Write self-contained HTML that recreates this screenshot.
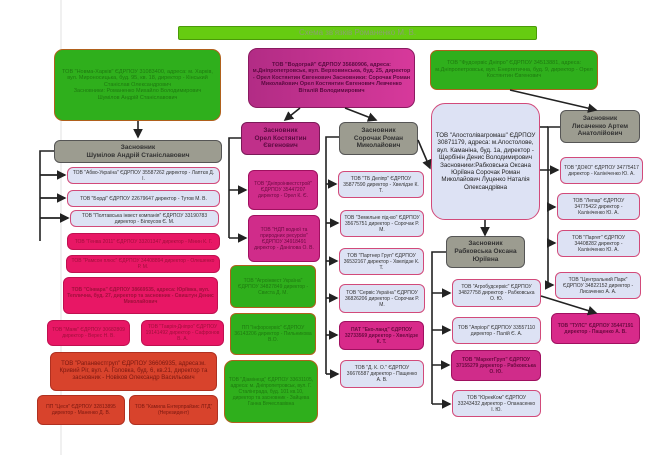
<!DOCTYPE html>
<html><head><meta charset="utf-8"><style>
body{margin:0;width:662px;height:455px;background:#fff;overflow:hidden;position:relative;font-family:"Liberation Sans",sans-serif}
.b{position:absolute;box-sizing:border-box;border-radius:6px;display:flex;align-items:center;justify-content:center;text-align:center;font-size:5px;line-height:1.2;padding:1px 3px;overflow:hidden}
.g{background:#2faf1c;border:1.5px solid #b0601c;color:#1f7a10}
.m{background:linear-gradient(90deg,#b22c85,#d7399b);border:1.5px solid #8a1a60;color:#5a0a40;font-weight:bold}
.p{background:#dde2f4;border:1.5px solid #d24a7a;color:#333}
.k{background:#e81765;border:1.5px solid #c01050;color:#a0103c}
.r{background:#d8432c;border:1.5px solid #b03020;color:#7a1810}
.s{background:#9c9c90;border:1.5px solid #555;color:#333;font-weight:bold;font-size:6.5px}
.mm{background:#c0308a;border:1.5px solid #7a1a58;color:#5a0a40;font-weight:bold;font-size:6.5px}
.pk{background:#d02c8a;border:1.5px solid #a01060;color:#6a0a40;font-weight:bold}
svg{position:absolute;left:0;top:0}
</style></head><body>
<div style="position:absolute;left:60px;top:0;width:2px;height:455px;background:#f0f0f0"></div>
<div class="b" style="left:178px;top:26px;width:359px;height:14px;background:#66cc11;border-radius:2px;color:#8aa070;font-size:8px;border:1px solid #4a9a08">Схема зв'язків Романенко М. В.</div>

<div class="b g" style="left:54px;top:49px;width:167px;height:72px;font-size:5.5px;border-radius:9px">ТОВ "Новма-Харків" ЄДРПОУ 31083400, адреса: м. Харків, вул. Мироносицька, буд. 95, кв. 18, директор - Кінський Станіслав Олександрович<br>Засновники: Романенко Михайло Володимирович<br>Шумілов Андрій Станіславович</div>
<div class="b m" style="left:248px;top:48px;width:167px;height:60px;font-size:5.5px;border-radius:9px">ТОВ "Водограй" ЄДРПОУ 35680906, адреса: м.Дніпропетровськ, вул. Верховинська, буд. 25, директор - Орел Костянтин Євгенович Засновники: Сорочак Роман Миколайович Орел Костянтин Євгенович Левченко Віталій Володимирович</div>
<div class="b g" style="left:430px;top:50px;width:168px;height:40px;font-size:5.5px;border-radius:7px">ТОВ "Фудсервіс Дніпро" ЄДРПОУ 34513881, адреса: м.Дніпропетровськ, вул. Енергетична, буд. 9, директор - Орел Костянтин Євгенович</div>

<div class="b s" style="left:54px;top:140px;width:168px;height:23px">Засновник<br>Шумілов Андрій Станіславович</div>
<div class="b p" style="left:67px;top:167px;width:153px;height:17px">ТОВ "Абво-Україна" ЄДРПОУ 35587262 директор - Лаптєв Д. І.</div>
<div class="b p" style="left:67px;top:190px;width:153px;height:17px">ТОВ "Борді" ЄДРПОУ 22679647 директор - Тутов М. В.</div>
<div class="b p" style="left:70px;top:210px;width:149px;height:17px">ТОВ "Полтавська інвест компанія" ЄДРПОУ 33190783 директор - Білоусов Є. М.</div>
<div class="b k" style="left:67px;top:233px;width:153px;height:17px">ТОВ "Генва 2011" ЄДРПОУ 33201347 директор - Мінин К. Г.</div>
<div class="b k" style="left:66px;top:255px;width:154px;height:18px">ТОВ "Рамсон плюс" ЄДРПОУ 34408894 директор - Олешенко Р. М.</div>
<div class="b k" style="left:63px;top:277px;width:155px;height:37px;font-weight:bold">ТОВ "Сінвара" ЄДРПОУ 38669535, адреса: Юріївка, вул. Теплична, буд. 27, директор та засновник - Свиштун Денис Миколайович</div>
<div class="b k" style="left:47px;top:320px;width:83px;height:26px">ТОВ "Маяк" ЄДРПОУ 30682809 директор - Верес Н. В.</div>
<div class="b k" style="left:141px;top:320px;width:83px;height:26px">ТОВ "Таврія-Дніпро" ЄДРПОУ 19141492 директор - Сафронов В. А.</div>
<div class="b r" style="left:50px;top:352px;width:167px;height:39px;font-size:6px">ТОВ "Рапанвестгруп" ЄДРПОУ 36606935, адреса:м. Кривий Ріг, вул. А. Головка, буд. 6, кв.21, директор та засновник - Новіков Олександр Васильович</div>
<div class="b r" style="left:37px;top:395px;width:88px;height:30px">ПП "Цеся" ЄДРПОУ 32813895 директор - Маненко Д. В.</div>
<div class="b r" style="left:129px;top:395px;width:89px;height:30px">ТОВ "Камила Ентерпрайзис ЛТД" (Нерезидент)</div>

<div class="b mm" style="left:241px;top:122px;width:79px;height:33px">Засновник<br>Орел Костянтин Євгенович</div>
<div class="b pk" style="left:248px;top:170px;width:70px;height:40px;font-weight:normal">ТОВ "Дніпроінвестстрой" ЄДРПОУ 35447207 директор - Орел К. Є.</div>
<div class="b pk" style="left:248px;top:215px;width:72px;height:47px;font-weight:normal">ТОВ "НДП водної та природних ресурсів" ЄДРПОУ 34918491 директор - Данілова О. В.</div>
<div class="b g" style="left:230px;top:265px;width:86px;height:43px">ТОВ "Агроінвест Україна" ЄДРПОУ 34827849 директор - Свиста Д. М.</div>
<div class="b g" style="left:230px;top:313px;width:86px;height:42px">ПП "Інфорсервіс" ЄДРПОУ 36143206 директор - Пильникова В.О.</div>
<div class="b g" style="left:224px;top:360px;width:94px;height:63px;border-radius:9px">ТОВ "Діамінезд" ЄДРПОУ 33631105, адреса: м. Дніпропетровськ, вул. Г. Сталінграда, буд. 101 кв.10, директор та засновник - Зайцева Ганна Вячеславівна</div>

<div class="b s" style="left:339px;top:122px;width:79px;height:33px">Засновник<br>Сорочак Роман Миколайович</div>
<div class="b p" style="left:338px;top:171px;width:86px;height:27px">ТОВ "ТБ Деліпр" ЄДРПОУ 35877590 директор - Хвелідзе К. Т.</div>
<div class="b p" style="left:340px;top:210px;width:84px;height:27px">ТОВ "Земельне під-во" ЄДРПОУ 35675751 директор - Сорочак Р. М.</div>
<div class="b p" style="left:339px;top:248px;width:85px;height:27px">ТОВ "Партнер Груп" ЄДРПОУ 36532167 директор - Хвелідзе К. Т.</div>
<div class="b p" style="left:339px;top:284px;width:86px;height:29px">ТОВ "Сервіс Україна" ЄДРПОУ 36826206 директор - Сорочак Р. М.</div>
<div class="b pk" style="left:339px;top:321px;width:85px;height:29px;background:#d82a8a">ПАТ "Еко-ланд" ЄДРПОУ 32733569 директор - Хвелідзе К. Т.</div>
<div class="b p" style="left:340px;top:360px;width:84px;height:28px">ТОВ "Д. К. О." ЄДРПОУ 36676587 директор - Пащенко А. В.</div>

<div class="b p" style="left:431px;top:103px;width:109px;height:117px;border-radius:14px;font-size:6.2px;color:#222">ТОВ "Апостолівагромаш" ЄДРПОУ 30871179, адреса: м.Апостолове, вул. Каманіна, буд. 1а, директор - Щербінін Денис Володимирович Засновники:Рабковська Оксана Юріївна Сорочак Роман Миколайович Луценко Наталія Олександрівна</div>
<div class="b s" style="left:446px;top:236px;width:79px;height:32px">Засновник<br>Рабковська Оксана Юріївна</div>
<div class="b p" style="left:452px;top:279px;width:89px;height:28px">ТОВ "Агробудсервіс" ЄДРПОУ 34827758 директор - Рабковська О. Ю.</div>
<div class="b p" style="left:452px;top:317px;width:89px;height:27px">ТОВ "Апріорі" ЄДРПОУ 33557110 директор - Палій Є. А.</div>
<div class="b pk" style="left:451px;top:350px;width:90px;height:31px">ТОВ "МаркетГруп" ЄДРПОУ 37155279 директор - Рабковська О. Ю.</div>
<div class="b p" style="left:452px;top:390px;width:89px;height:27px">ТОВ "ЮрекКом" ЄДРПОУ 33243432 директор - Опанасенко І. Ю.</div>

<div class="b s" style="left:560px;top:110px;width:80px;height:33px">Засновник<br>Лисаченко Артем Анатолійович</div>
<div class="b p" style="left:560px;top:157px;width:83px;height:27px">ТОВ "ДОКО" ЄДРПОУ 34775417 директор - Калініченко Ю. А.</div>
<div class="b p" style="left:557px;top:193px;width:83px;height:27px">ТОВ "Лепар" ЄДРПОУ 34775422 директор - Калініченко Ю. А.</div>
<div class="b p" style="left:557px;top:230px;width:83px;height:27px">ТОВ "Паргет" ЄДРПОУ 34408282 директор - Калініченко Ю. А.</div>
<div class="b p" style="left:555px;top:272px;width:86px;height:27px">ТОВ "Центральний Парк" ЄДРПОУ 34822152 директор - Лисаченко А. А.</div>
<div class="b pk" style="left:551px;top:313px;width:89px;height:31px;background:#d82a8a">ТОВ "ТУЛС" ЄДРПОУ 35447191 директор - Пащенко А. В.</div>

<svg width="662" height="455">
<defs><marker id="a" markerWidth="6" markerHeight="6" refX="5" refY="3" orient="auto"><path d="M0,0L6,3L0,6z" fill="#222"/></marker></defs>
<g stroke="#222" stroke-width="1.6" fill="none">
<path d="M138,121V137" marker-end="url(#a)"/>
<path d="M300,108L285,120" marker-end="url(#a)"/>
<path d="M345,108L376,120" marker-end="url(#a)"/>
<path d="M510,90L596,110" marker-end="url(#a)"/>
<path d="M418,140L430,168" marker-end="url(#a)"/>
<path d="M485,220V235" marker-end="url(#a)"/>
<path d="M541,296L596,313" marker-end="url(#a)"/>
<path d="M54,151H40V241"/>
<path d="M40,175H65M40,198H65M40,218H68" marker-end="url(#a)"/>
<path d="M40,175H65" marker-end="url(#a)"/><path d="M40,198H65" marker-end="url(#a)"/><path d="M40,218H68" marker-end="url(#a)"/>
<path d="M241,138H229V238"/>
<path d="M229,190H246" marker-end="url(#a)"/><path d="M229,238H246" marker-end="url(#a)"/>
<path d="M339,137H326V374"/>
<path d="M326,184H336" marker-end="url(#a)"/><path d="M326,223H338" marker-end="url(#a)"/><path d="M326,261H337" marker-end="url(#a)"/><path d="M326,298H337" marker-end="url(#a)"/><path d="M326,335H337" marker-end="url(#a)"/><path d="M326,374H338" marker-end="url(#a)"/>
<path d="M446,252H432V404"/>
<path d="M432,293H450" marker-end="url(#a)"/><path d="M432,330H450" marker-end="url(#a)"/><path d="M432,365H449" marker-end="url(#a)"/><path d="M432,404H450" marker-end="url(#a)"/>
<path d="M560,127H548V285"/>
<path d="M540,127H548"/>
<path d="M540,170H558" marker-end="url(#a)"/><path d="M548,207H555" marker-end="url(#a)"/><path d="M548,243H555" marker-end="url(#a)"/><path d="M548,285H553" marker-end="url(#a)"/>
</g></svg>
</body></html>
